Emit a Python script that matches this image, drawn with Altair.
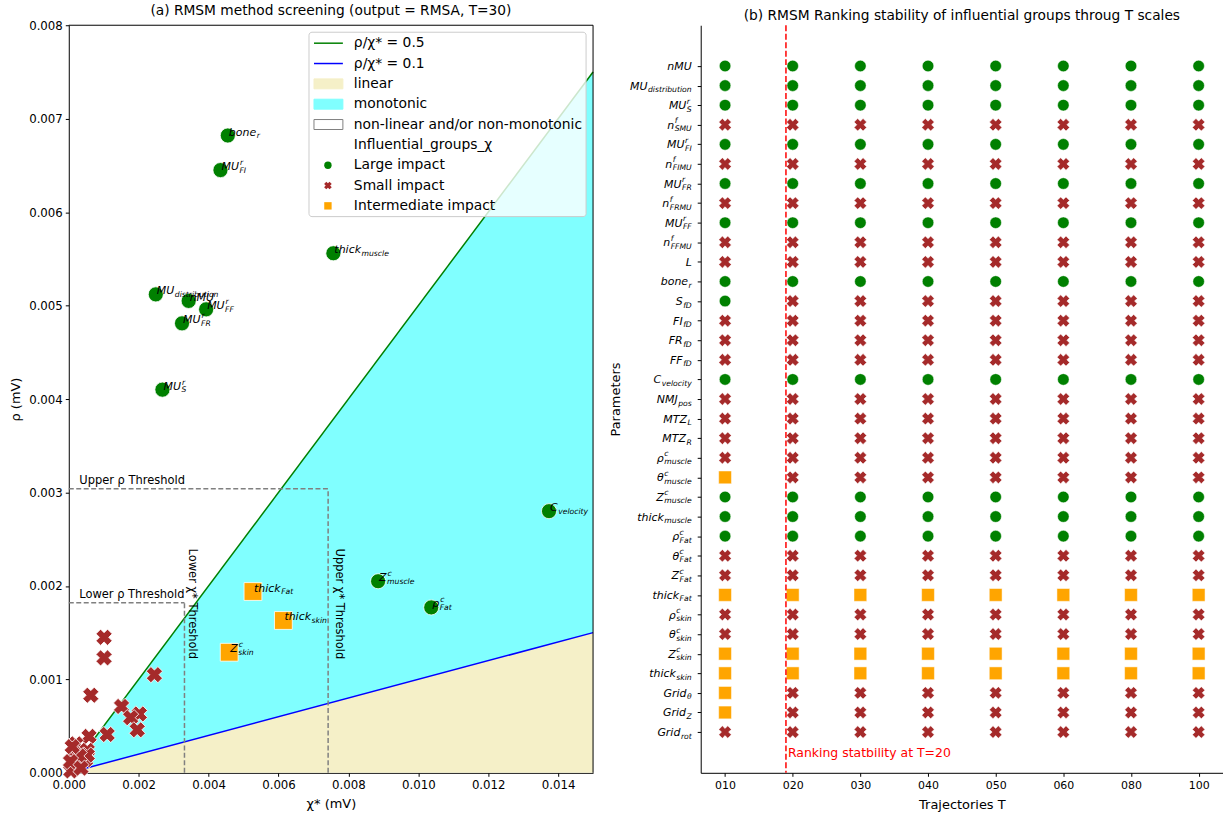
import altair as alt
import pandas as pd

FONT = "DejaVu Sans"

# ---------------------------------------------------------------------------
# Model parameters: key, base symbol, subscript, superscript
# ---------------------------------------------------------------------------
param_keys = ["nMU", "MU_distribution", "MU_S", "nf_SMU", "MU_FI", "nf_FIMU",
              "MU_FR", "nf_FRMU", "MU_FF", "nf_FFMU", "L", "bone_r", "S_fD",
              "FI_fD", "FR_fD", "FF_fD", "C_velocity", "NMJ_pos", "MTZ_L",
              "MTZ_R", "rho_muscle", "theta_muscle", "Z_muscle", "thick_muscle",
              "rho_Fat", "theta_Fat", "Z_Fat", "thick_Fat", "rho_skin",
              "theta_skin", "Z_skin", "thick_skin", "Grid_theta", "Grid_Z",
              "Grid_rot"]
param_base = ["nMU", "MU", "MU", "n", "MU", "n", "MU", "n", "MU", "n", "L",
              "bone", "S", "FI", "FR", "FF", "C", "NMJ", "MTZ", "MTZ", "ρ", "θ",
              "Z", "thick", "ρ", "θ", "Z", "thick", "ρ", "θ", "Z", "thick",
              "Grid", "Grid", "Grid"]
param_sub = ["", "distribution", "S", "SMU", "FI", "FIMU", "FR", "FRMU", "FF",
             "FFMU", "", "r", "fD", "fD", "fD", "fD", "velocity", "pos", "L",
             "R", "muscle", "muscle", "muscle", "muscle", "Fat", "Fat", "Fat",
             "Fat", "skin", "skin", "skin", "skin", "θ", "Z", "rot"]
param_sup = ["", "", "r", "f", "r", "f", "r", "f", "r", "f", "", "", "", "",
             "", "", "", "", "", "", "c", "c", "c", "", "c", "c", "c", "", "c",
             "c", "c", "", "", "", ""]

# ---------------------------------------------------------------------------
# (b) impact class of every parameter for each number of trajectories T
#     L = large, S = small, I = intermediate
# ---------------------------------------------------------------------------
T_labels = ["010", "020", "030", "040", "050", "060", "080", "100"]
status_T010 = ("L L L S L S L S L S  S L L S S S L S S S  "
               "S I L L L S S I S S  I I I I S").split()
status_T020 = ("L L L S L S L S L S  S L S S S S L S S S  "
               "S S L L L S S I S S  I I S S S").split()
status_T030 = ("L L L S L S L S L S  S L S S S S L S S S  "
               "S S L L L S S I S S  I I S S S").split()
status_T040 = ("L L L S L S L S L S  S L S S S S L S S S  "
               "S S L L L S S I S S  I I S S S").split()
status_T050 = ("L L L S L S L S L S  S L S S S S L S S S  "
               "S S L L L S S I S S  I I S S S").split()
status_T060 = ("L L L S L S L S L S  S L S S S S L S S S  "
               "S S L L L S S I S S  I I S S S").split()
status_T080 = ("L L L S L S L S L S  S L S S S S L S S S  "
               "S S L L L S S I S S  I I S S S").split()
status_T100 = ("L L L S L S L S L S  S L S S S S L S S S  "
               "S S L L L S S I S S  I I S S S").split()
status_by_T = [status_T010, status_T020, status_T030, status_T040,
               status_T050, status_T060, status_T080, status_T100]
stability_T = "020"

# ---------------------------------------------------------------------------
# (a) RMSM screening measures at T=30 (mV)
# ---------------------------------------------------------------------------
screen_keys = ["bone_r", "MU_FI", "thick_muscle", "MU_distribution", "nMU",
               "MU_FF", "MU_FR", "MU_S", "C_velocity", "Z_muscle", "rho_Fat",
               "thick_Fat", "thick_skin", "Z_skin",
               "nf_SMU", "nf_FIMU", "nf_FRMU", "nf_FFMU", "L", "S_fD", "FI_fD",
               "FR_fD", "FF_fD", "NMJ_pos", "MTZ_L", "MTZ_R", "rho_muscle",
               "theta_muscle", "theta_Fat", "Z_Fat", "rho_skin", "theta_skin",
               "Grid_theta", "Grid_Z", "Grid_rot"]
screen_chi = [0.00455, 0.00434, 0.00757, 0.00249, 0.00343, 0.00393, 0.00324,
              0.00268, 0.01374, 0.00885, 0.01037,
              0.00527, 0.00614, 0.00459,
              0.00101, 0.00101, 0.00245, 0.00063, 0.00151, 0.00202, 0.00177,
              0.00196, 0.00110, 0.00058, 0.00020, 0.00015, 0.00053, 0.00048,
              0.00015, 0.00006, 0.00053, 0.00030, 0.00005, 0.00035, 0.00010]
screen_rho = [0.00682, 0.00645, 0.00556, 0.00512, 0.00505, 0.00496, 0.00481,
              0.00410, 0.00280, 0.00205, 0.00177,
              0.00194, 0.00163, 0.00129,
              0.00145, 0.00123, 0.00105, 0.00083, 0.00071, 0.00063, 0.00059,
              0.00046, 0.00041, 0.00039, 0.00031, 0.00021, 0.00024, 0.00014,
              0.00010, 0.00002, 0.00019, 0.00018, 0.00012, 0.00005, 0.00028]

upper_rho = 0.00304
lower_rho = 0.00182
upper_chi = 0.00742
lower_chi = 0.00331
ratio_hi = 0.5
ratio_lo = 0.1
chi_max = 0.015
rho_max = 0.008

impact_color = {"L": "#008000", "S": "#A52A2A", "I": "#FFA500"}

# ---------------------------------------------------------------------------
# text metrics (DejaVu Sans advance widths, units per em = 2048)
# ---------------------------------------------------------------------------
ADV = dict(zip("abcdefghijklmnopqrstuvwxyz",
               [1255, 1300, 1126, 1300, 1260, 721, 1300, 1298, 569, 569, 1186,
                569, 1995, 1298, 1253, 1300, 1300, 842, 1067, 803, 1298, 1212,
                1675, 1212, 1212, 1075]))
ADV.update(zip("ABCDEFGHIJKLMNOPQRSTUVWXYZ",
               [1401, 1405, 1430, 1577, 1294, 1178, 1587, 1540, 604, 604, 1343,
                1141, 1767, 1532, 1612, 1235, 1612, 1423, 1300, 1251, 1499, 1401,
                2025, 1403, 1251, 1403]))
ADV.update({"ρ": 1300, "θ": 1253})


def text_w(s, size):
    return sum(ADV.get(c, 1200) for c in s) / 2048.0 * size


LBL = 11.0          # math label size
SUB = LBL * 0.7     # sub/superscript size
parts = {k: (b, s, p) for k, b, s, p in zip(param_keys, param_base, param_sub, param_sup)}

# ===========================================================================
# (a) screening panel
# ===========================================================================
WL, H = 526, 750
status_T030_map = dict(zip(param_keys, status_T030))
screen_df = pd.DataFrame({"key": screen_keys, "chi": screen_chi, "rho": screen_rho})
screen_df["impact"] = [status_T030_map[k] for k in screen_keys]

x_ticks = [0.0, 0.002, 0.004, 0.006, 0.008, 0.010, 0.012, 0.014]
y_ticks = [0.0, 0.001, 0.002, 0.003, 0.004, 0.005, 0.006, 0.007, 0.008]


def LX(field):
    return alt.X(field, type="quantitative",
                 scale=alt.Scale(domain=[0, chi_max], nice=False, zero=False,
                                 padding=0),
                 axis=alt.Axis(values=x_ticks, format=".3f", title="χ* (mV)",
                               titlePadding=7))


def LY(field):
    return alt.Y(field, type="quantitative",
                 scale=alt.Scale(domain=[0, rho_max], nice=False, zero=False,
                                 padding=0),
                 axis=alt.Axis(values=y_ticks, format=".3f", title="ρ (mV)",
                               titlePadding=6))


region_df = pd.DataFrame({"x": [0.0, chi_max]})
region_df["zero"] = 0.0
region_df["lo"] = region_df["x"] * ratio_lo
region_df["hi"] = region_df["x"] * ratio_hi

linear_area = alt.Chart(region_df).mark_area(color="#F5F0C8", opacity=1).encode(
    x=LX("x"), y=LY("zero"), y2="lo:Q")
mono_area = alt.Chart(region_df).mark_area(color="#80FFFF", opacity=1).encode(
    x=LX("x"), y=LY("lo"), y2="hi:Q")
line_hi = alt.Chart(region_df).mark_line(color="green", strokeWidth=1.5).encode(
    x=LX("x"), y=LY("hi"))
line_lo = alt.Chart(region_df).mark_line(color="blue", strokeWidth=1.5).encode(
    x=LX("x"), y=LY("lo"))

thr_df = pd.DataFrame({
    "x": [0.0, upper_chi, 0.0, lower_chi],
    "x2": [upper_chi, upper_chi, lower_chi, lower_chi],
    "y": [upper_rho, 0.0, lower_rho, 0.0],
    "y2": [upper_rho, upper_rho, lower_rho, lower_rho],
})
thr_lines = alt.Chart(thr_df).mark_rule(color="#808080", strokeWidth=1.5,
                                        strokeDash=[5, 2.5]).encode(
    x=LX("x"), x2="x2:Q", y=LY("y"), y2="y2:Q")

hthr_df = pd.DataFrame({"t": ["Upper ρ Threshold", "Lower ρ Threshold"],
                        "x": [0.0003, 0.0003], "y": [upper_rho, lower_rho]})
hthr_text = alt.Chart(hthr_df).mark_text(
    align="left", baseline="alphabetic", dy=-5, fontSize=11.5, font=FONT,
    color="black").encode(x=LX("x"), y=LY("y"), text="t:N")

vthr_layers = []
for t, xv, off in [("Lower χ* Threshold", lower_chi, -4.5),
                   ("Upper χ* Threshold", upper_chi, -7.5)]:
    vthr_layers.append(
        alt.Chart(pd.DataFrame({"t": [t], "x": [xv], "y": [0.0024]})).mark_text(
            align="left", baseline="alphabetic", angle=90, dy=off,
            fontSize=11.5, font=FONT, color="black").encode(
            x=LX("x"), y=LY("y"), text="t:N"))

# points
pt_L = alt.Chart(screen_df).transform_filter(alt.datum.impact == "L").mark_point(
    shape="circle", filled=True, size=230, fill=impact_color["L"], stroke="white",
    strokeWidth=0.8, opacity=1).encode(x=LX("chi"), y=LY("rho"))
pt_S = alt.Chart(screen_df).transform_filter(alt.datum.impact == "S").mark_point(
    shape="cross", angle=45, filled=True, size=270, fill=impact_color["S"],
    stroke="white", strokeWidth=0.8, opacity=1).encode(x=LX("chi"), y=LY("rho"))
pt_I = alt.Chart(screen_df).transform_filter(alt.datum.impact == "I").mark_point(
    shape="square", filled=True, size=320, fill=impact_color["I"], stroke="white",
    strokeWidth=0.8, opacity=1).encode(x=LX("chi"), y=LY("rho"))

# point labels with sub/superscripts
label_layers = []
for k, imp in zip(screen_df["key"], screen_df["impact"]):
    if imp == "S":
        continue
    b, s, p = parts[k]
    src = alt.Chart(screen_df).transform_filter(alt.datum.key == k)
    label_layers.append(src.mark_text(
        align="left", baseline="alphabetic", dx=1, fontSize=LBL,
        fontStyle="italic", font=FONT, color="black").encode(
        x=LX("chi"), y=LY("rho"), text=alt.value(b)))
    off = 1 + text_w(b, LBL) + 0.5
    if s:
        label_layers.append(src.mark_text(
            align="left", baseline="alphabetic", dx=off, dy=2.5, fontSize=SUB,
            fontStyle="italic", font=FONT, color="black").encode(
            x=LX("chi"), y=LY("rho"), text=alt.value(s)))
    if p:
        label_layers.append(src.mark_text(
            align="left", baseline="alphabetic", dx=off + 0.5, dy=-5, fontSize=SUB,
            fontStyle="italic", font=FONT, color="black").encode(
            x=LX("chi"), y=LY("rho"), text=alt.value(p)))

# top and right spines of the frame
frame_df = pd.DataFrame({"x": [0.0, chi_max], "x2": [chi_max, chi_max],
                         "y": [rho_max, 0.0], "y2": [rho_max, rho_max]})
frame = alt.Chart(frame_df).mark_rule(color="black", strokeWidth=1).encode(
    x=LX("x"), x2="x2:Q", y=LY("y"), y2="y2:Q")

# legend (drawn inside the plot, upper right)
legend_labels = ["ρ/χ* = 0.5", "ρ/χ* = 0.1", "linear", "monotonic",
                 "non-linear and/or non-monotonic", "Influential_groups_χ",
                 "Large impact", "Small impact", "Intermediate impact"]
legend_kind = ["line", "line", "patch", "patch", "patch", "none", "L", "S", "I"]
legend_fill = ["green", "blue", "#F5F0C8", "#80FFFF", "white", "white",
               impact_color["L"], impact_color["S"], impact_color["I"]]
legend_stroke = ["green", "blue", "#F5F0C8", "#80FFFF", "#808080", "white",
                 "white", "white", "white"]
leg = pd.DataFrame({"label": legend_labels, "kind": legend_kind,
                    "fill": legend_fill, "stroke": legend_stroke})
leg["ly"] = 18 + 20.4 * leg.index
leg["ly0"] = leg["ly"] - 5
leg["ly1"] = leg["ly"] + 5

leg_box = alt.Chart(pd.DataFrame({"a": [0]})).mark_rect(
    fill="white", fillOpacity=0.8, stroke="#cccccc", strokeWidth=1,
    cornerRadius=3).encode(x=alt.value(241), x2=alt.value(519),
                           y=alt.value(7), y2=alt.value(192))
leg_text = alt.Chart(leg).mark_text(
    align="left", baseline="middle", fontSize=13.9, font=FONT, color="black").encode(
    x=alt.value(286), y=alt.Y("ly:Q", scale=None), text="label:N")
leg_lines = alt.Chart(leg).transform_filter(alt.datum.kind == "line").mark_rule(
    strokeWidth=1.5).encode(x=alt.value(246), x2=alt.value(275),
                            y=alt.Y("ly:Q", scale=None),
                            color=alt.Color("fill:N", scale=None))
leg_patch = alt.Chart(leg).transform_filter(alt.datum.kind == "patch").mark_rect(
    strokeWidth=1).encode(x=alt.value(246), x2=alt.value(275),
                          y=alt.Y("ly0:Q", scale=None), y2="ly1:Q",
                          fill=alt.Fill("fill:N", scale=None),
                          stroke=alt.Stroke("stroke:N", scale=None))
leg_L = alt.Chart(leg).transform_filter(alt.datum.kind == "L").mark_point(
    shape="circle", filled=True, size=55, fill=impact_color["L"], opacity=1).encode(
    x=alt.value(260), y=alt.Y("ly:Q", scale=None))
leg_S = alt.Chart(leg).transform_filter(alt.datum.kind == "S").mark_point(
    shape="cross", angle=45, filled=True, size=60, fill=impact_color["S"],
    opacity=1).encode(x=alt.value(260), y=alt.Y("ly:Q", scale=None))
leg_I = alt.Chart(leg).transform_filter(alt.datum.kind == "I").mark_point(
    shape="square", filled=True, size=55, fill=impact_color["I"], opacity=1).encode(
    x=alt.value(260), y=alt.Y("ly:Q", scale=None))

left = alt.layer(
    linear_area, mono_area, line_hi, line_lo, thr_lines, hthr_text, *vthr_layers,
    pt_L, pt_S, pt_I, *label_layers, frame,
    leg_box, leg_lines, leg_patch, leg_L, leg_S, leg_I, leg_text,
).properties(
    width=WL, height=H,
    title=alt.TitleParams("(a) RMSM method screening (output = RMSA, T=30)",
                          frame="group", offset=2),
)

# ===========================================================================
# (b) ranking stability panel
# ===========================================================================
WR = 524
n_par = len(param_keys)
rank_rows = []
for j, t in enumerate(T_labels):
    for i, (k, st) in enumerate(zip(param_keys, status_by_T[j])):
        rank_rows.append({"param": k, "pi": i, "ti": j, "status": st})
rank_df = pd.DataFrame(rank_rows)

label_expr = "[" + ",".join("'%s'" % t for t in T_labels) + "][datum.value]"


def RX(field):
    return alt.X(field, type="quantitative",
                 scale=alt.Scale(domain=[-0.36, len(T_labels) - 1 + 0.36],
                                 nice=False, zero=False, padding=0),
                 axis=alt.Axis(values=list(range(len(T_labels))),
                               labelExpr=label_expr, title="Trajectories T",
                               labelFontSize=11, titlePadding=8))


def RY(field="pi"):
    return alt.Y(field, type="quantitative",
                 scale=alt.Scale(domain=[n_par - 1 + 2.08, -2.08], nice=False,
                                 zero=False, padding=0),
                 axis=alt.Axis(values=list(range(n_par)), labels=False,
                               ticks=True, title="Parameters", titlePadding=74))


rk_L = alt.Chart(rank_df).transform_filter(alt.datum.status == "L").mark_point(
    shape="circle", filled=True, size=135, fill=impact_color["L"], stroke="white",
    strokeWidth=0.5, opacity=1).encode(x=RX("ti"), y=RY())
rk_S = alt.Chart(rank_df).transform_filter(alt.datum.status == "S").mark_point(
    shape="cross", angle=45, filled=True, size=160, fill=impact_color["S"],
    stroke="white", strokeWidth=0.5, opacity=1).encode(x=RX("ti"), y=RY())
rk_I = alt.Chart(rank_df).transform_filter(alt.datum.status == "I").mark_point(
    shape="square", filled=True, size=165, fill=impact_color["I"], stroke="white",
    strokeWidth=0.5, opacity=1).encode(x=RX("ti"), y=RY())

stab_df = pd.DataFrame({"pos": [T_labels.index(stability_T) - 0.1],
                        "t": ["Ranking statbility at T=20"]})
stab_rule = alt.Chart(stab_df).mark_rule(
    color="red", strokeWidth=1.5, strokeDash=[6, 2.5]).encode(x=RX("pos"))
stab_text = alt.Chart(stab_df).mark_text(
    align="left", baseline="middle", dx=2, fontSize=12.5, font=FONT,
    color="red").encode(x=RX("pos"), y=alt.value(730), text="t:N")

# y tick labels with sub/superscripts, right-aligned next to the axis
lab_end = -9.0
lab_rows = []
for i, (k, b, s, p) in enumerate(zip(param_keys, param_base, param_sub, param_sup)):
    trail = max(text_w(s, SUB), text_w(p, SUB))
    sx = lab_end - trail
    bx = sx - (0.5 if trail > 0 else 0)
    lab_rows.append({"param": k, "pi": i, "base": b, "sub": s, "sup": p,
                     "bx": bx, "sx": sx})
lab_df = pd.DataFrame(lab_rows)

lab_base = alt.Chart(lab_df).mark_text(
    align="right", baseline="alphabetic", dy=4, fontSize=LBL, fontStyle="italic",
    font=FONT, color="black").encode(
    x=alt.X("bx:Q", scale=None), y=RY(), text="base:N")
lab_sub = alt.Chart(lab_df).transform_filter(alt.datum.sub != "").mark_text(
    align="left", baseline="alphabetic", dy=6.5, fontSize=SUB, fontStyle="italic",
    font=FONT, color="black").encode(
    x=alt.X("sx:Q", scale=None), y=RY(), text="sub:N")
lab_sup = alt.Chart(lab_df).transform_filter(alt.datum.sup != "").mark_text(
    align="left", baseline="alphabetic", dy=-1.5, fontSize=SUB, fontStyle="italic",
    font=FONT, color="black").encode(
    x=alt.X("sx:Q", scale=None), y=RY(), text="sup:N")

right = alt.layer(
    rk_L, rk_S, rk_I, stab_rule, stab_text, lab_base, lab_sub, lab_sup,
).properties(
    width=WR, height=H,
    title=alt.TitleParams(
        "(b) RMSM Ranking stability of influential groups throug T scales",
        frame="group", offset=2),
)

chart = alt.hconcat(left, right, spacing=14).properties(
    padding={"left": 9, "top": 3, "right": 0, "bottom": 0},
    background="white",
).configure_view(stroke=None).configure_axis(
    labelFont=FONT, titleFont=FONT, labelFontSize=11.8, titleFontSize=13,
    titleFontWeight="normal", labelColor="black", titleColor="black",
    tickColor="black", domainColor="black", tickSize=3.5, labelPadding=3,
    labelFlush=False, grid=False,
).configure_title(
    font=FONT, fontSize=13.8, fontWeight="normal", color="black", anchor="middle",
)

chart.save("out.html", embed_options={"renderer": "svg", "actions": False})
